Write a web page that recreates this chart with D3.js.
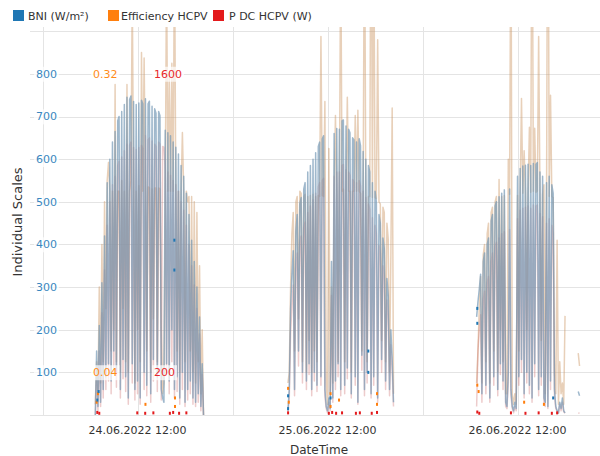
<!DOCTYPE html>
<html>
<head>
<meta charset="utf-8">
<script src="https://cdn.jsdelivr.net/npm/d3@7"></script>
<style>
  body { margin: 0; background: #fff; }
  svg { display: block; }
  text { font-family: "DejaVu Sans", Verdana, sans-serif; }
</style>
</head>
<body>
<svg id="chart" width="600" height="456"></svg>
<script>
// Series and legend
const seriesNames = ["BNI (W/m²)", "Efficiency HCPV", "P DC HCPV (W)"];
const seriesColors = ["#1f77b4", "#ff7f0e", "#e31a1c"];

// Each day is sampled every 10 minutes from its first reading
const stepMinutes = 10;
const dayStarts = ["2022-06-24T06:40", "2022-06-25T07:00", "2022-06-26T06:50"];

// BNI (W/m²)
const bni24 = [0,150,20,210,30,310,60,420,90,545,120,600,80,640,150,665,100,690,700,60,712,130,728,90,745,40,740,748,120,735,60,728,80,732,40,738,730,100,742,70,730,736,50,724,130,718,708,90,712,702,60,40,30,668,120,662,80,655,200,640,60,628,90,612,40,585,100,560,30,520,60,470,80,410,40,360,30,300,50,230,20,120,0];
const bni25 = [10,60,250,330,385,60,430,470,150,495,510,100,530,545,80,570,120,585,60,600,100,615,70,630,640,90,648,655,60,20,10,40,15,360,40,660,80,672,120,670,60,690,692,70,678,110,670,662,50,650,645,90,640,30,648,632,140,618,60,600,100,585,570,50,545,90,525,500,40,470,450,130,415,390,80,320,280,60,200,130,30];
const bni26 = [230,265,295,330,50,360,380,70,400,415,40,455,470,90,490,500,60,512,120,520,80,528,30,20,100,530,60,20,10,30,15,560,90,578,130,584,50,586,100,588,70,585,40,590,120,588,592,60,570,90,560,40,30,545,20,560,80,540,520,60,20,10,5,30,15,40,10,5,null,null,null,null,null,null,null,null,null,55,45];

// Efficiency HCPV (fraction)
const eff24 = [0.01,0.05,0.02,0.12,0.03,0.16,0.05,0.20,0.10,0.22,0.237,0.21,0.06,0.21,0.08,0.31,0.05,0.21,0.21,0.04,0.22,0.10,0.21,0.05,0.31,0.04,0.21,0.22,0.40,0.21,0.03,0.21,0.08,0.215,0.05,0.34,0.21,0.335,0.21,0.06,0.214,0.213,0.04,0.212,0.09,0.213,0.213,0.05,0.213,0.212,0.08,0.02,0.03,0.21,0.42,0.21,0.32,0.21,0.33,0.21,0.45,0.21,0.06,0.21,0.04,0.21,0.265,0.21,0.05,0.21,0.20,0.205,0.06,0.205,0.04,0.20,0.03,0.19,0.05,0.14,0.02,0.08,0];
const eff25 = [0.03,0.04,0.12,0.17,0.19,0.06,0.2,0.205,0.09,0.21,0.208,0.05,0.205,0.207,0.04,0.205,0.07,0.206,0.04,0.207,0.06,0.205,0.05,0.206,0.205,0.355,0.206,0.205,0.294,0.03,0.01,0.25,0.02,0.12,0.03,0.21,0.281,0.21,0.05,0.21,0.45,0.21,0.212,0.05,0.21,0.298,0.21,0.21,0.04,0.21,0.21,0.281,0.21,0.286,0.21,0.208,0.06,0.208,0.5,0.206,0.05,0.205,0.205,0.55,0.204,0.48,0.204,0.203,0.352,0.2,0.198,0.07,0.195,0.19,0.05,0.18,0.165,0.04,0.15,0.288,0.02];
const eff26 = [0.03,0.06,0.1,0.13,0.03,0.15,0.16,0.05,0.17,0.18,0.03,0.19,0.195,0.06,0.2,0.205,0.04,0.221,0.08,0.205,0.05,0.206,0.02,0.02,0.24,0.207,0.5,0.02,0.01,0.02,0.01,0.206,0.06,0.208,0.297,0.208,0.248,0.209,0.08,0.209,0.27,0.209,0.55,0.21,0.269,0.209,0.21,0.355,0.208,0.07,0.207,0.216,0.02,0.206,0.6,0.205,0.3,0.205,0.204,0.04,0.02,0.164,0.01,0.05,0.02,0.03,0.01,0.093,null,null,null,null,null,null,null,null,null,0.058,0.046];

// P DC HCPV (W)
const pdc24 = [0,180,20,300,40,480,80,680,120,890,160,1000,100,1080,200,1120,130,1170,1190,80,1210,170,1240,110,1270,50,1265,1280,150,1255,70,1245,100,1255,50,1265,1250,120,1310,90,1290,1300,60,1285,160,1270,1260,110,1280,1270,70,1260,1255,1150,200,1140,100,1125,250,1100,80,1080,110,1050,50,1000,120,960,40,890,70,800,100,700,50,610,40,500,60,380,20,190,0];
const pdc25 = [10,80,380,520,610,90,690,760,230,810,840,150,880,905,120,950,190,980,90,1010,160,1040,110,1070,1090,140,1100,1110,90,30,10,60,20,560,60,1120,120,1140,180,1140,90,1170,1175,100,1150,170,1140,1125,80,1105,1095,140,1090,50,1100,1075,210,1050,90,1020,150,990,965,80,925,140,890,850,60,795,760,200,700,655,120,540,470,90,330,210,40];
const pdc26 = [40,300,400,470,60,540,580,100,620,650,60,720,760,140,790,810,90,830,190,850,120,860,40,30,150,870,90,30,10,40,20,920,140,960,200,970,80,975,150,980,100,970,60,985,180,980,985,90,945,140,930,60,40,900,30,920,120,890,850,90,30,20,8,50,20,60,15,8,null,null,null,null,null,null,null,null,null,10,8];

// Isolated readings between gaps: [time, value]
const bniSpots = [["2022-06-24T06:55",35],["2022-06-24T07:05",55],["2022-06-24T16:39",410],["2022-06-24T16:39",340],["2022-06-25T07:01",15],["2022-06-25T07:01",45],["2022-06-25T12:23",40],["2022-06-25T17:09",150],["2022-06-25T17:09",100],["2022-06-26T06:55",250],["2022-06-26T06:55",215],["2022-06-26T16:30",40]];
const effSpots = [["2022-06-24T06:50",0.012],["2022-06-24T07:00",0.02],["2022-06-24T16:44",0.016],["2022-06-24T16:44",0.008],["2022-06-24T13:00",0.01],["2022-06-25T07:01",0.025],["2022-06-25T07:06",0.012],["2022-06-25T12:23",0.02],["2022-06-25T12:23",0.008],["2022-06-25T13:27",0.014],["2022-06-25T18:15",0.02],["2022-06-25T18:15",0.01],["2022-06-26T06:55",0.028],["2022-06-26T07:05",0.022],["2022-06-26T12:50",0.012],["2022-06-26T15:20",0.01]];
const pdcSpots = [["2022-06-24T06:55",12],["2022-06-24T07:10",8],["2022-06-24T11:58",10],["2022-06-24T12:58",8],["2022-06-24T14:00",10],["2022-06-24T16:05",8],["2022-06-24T16:30",12],["2022-06-24T17:15",8],["2022-06-24T18:10",10],["2022-06-25T07:01",10],["2022-06-25T12:10",8],["2022-06-25T12:35",12],["2022-06-25T13:05",8],["2022-06-25T13:50",10],["2022-06-25T15:35",8],["2022-06-25T16:05",10],["2022-06-25T17:35",8],["2022-06-25T18:15",12],["2022-06-26T06:55",14],["2022-06-26T07:10",8],["2022-06-26T11:10",10],["2022-06-26T13:00",8],["2022-06-26T14:40",10],["2022-06-26T16:20",8],["2022-06-26T17:00",10]];

// Axis ticks
const bniTicks = [100, 200, 300, 400, 500, 600, 700, 800];
const effTicks = [0.04, 0.32];
const pdcTicks = [200, 1600];
const timeDomain = ["2022-06-23T22:25", "2022-06-26T22:25"];

const parse = d3.timeParse("%Y-%m-%dT%H:%M");
const svg = d3.select("#chart");
const plotLeft = 30, plotRight = 600, plotTop = 27, plotBottom = 415;

const x = d3.scaleTime().domain(timeDomain.map(parse)).range([plotLeft, plotRight]);
const y = d3.scaleLinear().domain([0, 910]).range([plotBottom, plotTop]);
const yEff = d3.scaleLinear().domain([0, 0.364]).range([plotBottom, plotTop]);
const yPdc = d3.scaleLinear().domain([0, 1820]).range([plotBottom, plotTop]);

function points(start, values) {
  const t0 = parse(start);
  return values.map((v, i) => ({ t: d3.timeMinute.offset(t0, i * stepMinutes), v }));
}

// Grid
const grid = svg.append("g").attr("stroke", "#e4e4e4").attr("stroke-width", 1);
grid.selectAll("line.h").data(y.ticks(10)).join("line")
  .attr("x1", plotLeft).attr("x2", plotRight)
  .attr("y1", d => Math.round(y(d)) + 0.5).attr("y2", d => Math.round(y(d)) + 0.5);
const halfDays = x.ticks(d3.timeHour.every(12));
grid.selectAll("line.v").data(halfDays).join("line")
  .attr("x1", d => Math.round(x(d)) + 0.5).attr("x2", d => Math.round(x(d)) + 0.5)
  .attr("y1", plotTop).attr("y2", plotBottom);

// Data
svg.append("clipPath").attr("id", "plot").append("rect")
  .attr("x", plotLeft).attr("y", plotTop)
  .attr("width", plotRight - plotLeft).attr("height", plotBottom - plotTop + 2);
const plot = svg.append("g").attr("clip-path", "url(#plot)");

const days = [
  { start: dayStarts[0], bni: bni24, eff: eff24, pdc: pdc24 },
  { start: dayStarts[1], bni: bni25, eff: eff25, pdc: pdc25 },
  { start: dayStarts[2], bni: bni26, eff: eff26, pdc: pdc26 }
];

// Faded line tones per series, drawn efficiency first and BNI on top
const layers = [
  { key: "eff", scale: yEff, stroke: "rgb(205,150,100)", opacity: 0.45, width: 1.5 },
  { key: "pdc", scale: yPdc, stroke: "rgb(200,95,95)", opacity: 0.32, width: 1.5 },
  { key: "bni", scale: y, stroke: "rgb(118,154,182)", opacity: 0.7, width: 1.5 }
];

layers.forEach(layer => {
  const line = d3.line()
    .defined(d => d.v != null)
    .x(d => x(d.t))
    .y(d => layer.scale(d.v));
  days.forEach(day => {
    plot.append("path")
      .datum(points(day.start, day[layer.key]))
      .attr("fill", "none")
      .attr("stroke", layer.stroke)
      .attr("stroke-opacity", layer.opacity)
      .attr("stroke-width", layer.width)
      .attr("stroke-linejoin", "round")
      .attr("d", line);
  });
});

// Isolated readings as small solid markers
[[effSpots, yEff, seriesColors[1]], [pdcSpots, yPdc, seriesColors[2]], [bniSpots, y, seriesColors[0]]]
  .forEach(([spots, scale, color]) => {
    plot.append("g").selectAll("rect").data(spots).join("rect")
      .attr("x", d => x(parse(d[0])) - 1)
      .attr("y", d => scale(d[1]) - 1.5)
      .attr("width", 2).attr("height", 3)
      .attr("fill", color);
  });

// Value labels inside the plot, with light backing boxes
function labelSet(values, scale, fmt, xPos, anchor, color) {
  const g = svg.append("g");
  values.forEach(v => {
    const t = g.append("text")
      .attr("x", xPos).attr("y", scale(v)).attr("dy", "0.35em")
      .attr("text-anchor", anchor)
      .attr("font-size", 11).attr("fill", color)
      .text(fmt(v));
    const b = t.node().getBBox();
    g.insert("rect", "text")
      .attr("x", b.x - 2).attr("y", b.y - 1)
      .attr("width", b.width + 4).attr("height", b.height + 2)
      .attr("fill", "#fff").attr("fill-opacity", 0.7);
  });
}
labelSet(bniTicks, y, d3.format("d"), 57, "end", "#3a87c0");
labelSet(effTicks, yEff, d3.format(".2f"), 93, "start", "#ff8c1a");
labelSet(pdcTicks, yPdc, d3.format("d"), 154, "start", "#e8282b");

// Time axis labels at noon
const fmtTime = d3.timeFormat("%d.%m.%Y %H:%M");
svg.append("g").selectAll("text")
  .data(halfDays.filter(d => d.getHours() === 12))
  .join("text")
  .attr("x", d => x(d)).attr("y", 434)
  .attr("text-anchor", "middle").attr("font-size", 11).attr("fill", "#333")
  .text(fmtTime);

// Axis titles
svg.append("text")
  .attr("x", (plotLeft + plotRight) / 2 + 4).attr("y", 454)
  .attr("text-anchor", "middle").attr("font-size", 12).attr("fill", "#333")
  .text("DateTime");
svg.append("text")
  .attr("transform", `translate(22,${(plotTop + plotBottom) / 2 + 1}) rotate(-90)`)
  .attr("text-anchor", "middle").attr("font-size", 13).attr("fill", "#333")
  .text("Individual Scales");

// Legend
const legendBoxX = [13, 108, 213];
const legendTextX = [28, 121, 229];
const legend = svg.append("g");
seriesNames.forEach((name, i) => {
  legend.append("rect")
    .attr("x", legendBoxX[i]).attr("y", 10).attr("width", 11).attr("height", 11)
    .attr("fill", seriesColors[i]);
  legend.append("text")
    .attr("x", legendTextX[i]).attr("y", 20)
    .attr("font-size", 11).attr("fill", "#333")
    .text(name);
});
</script>
</body>
</html>
